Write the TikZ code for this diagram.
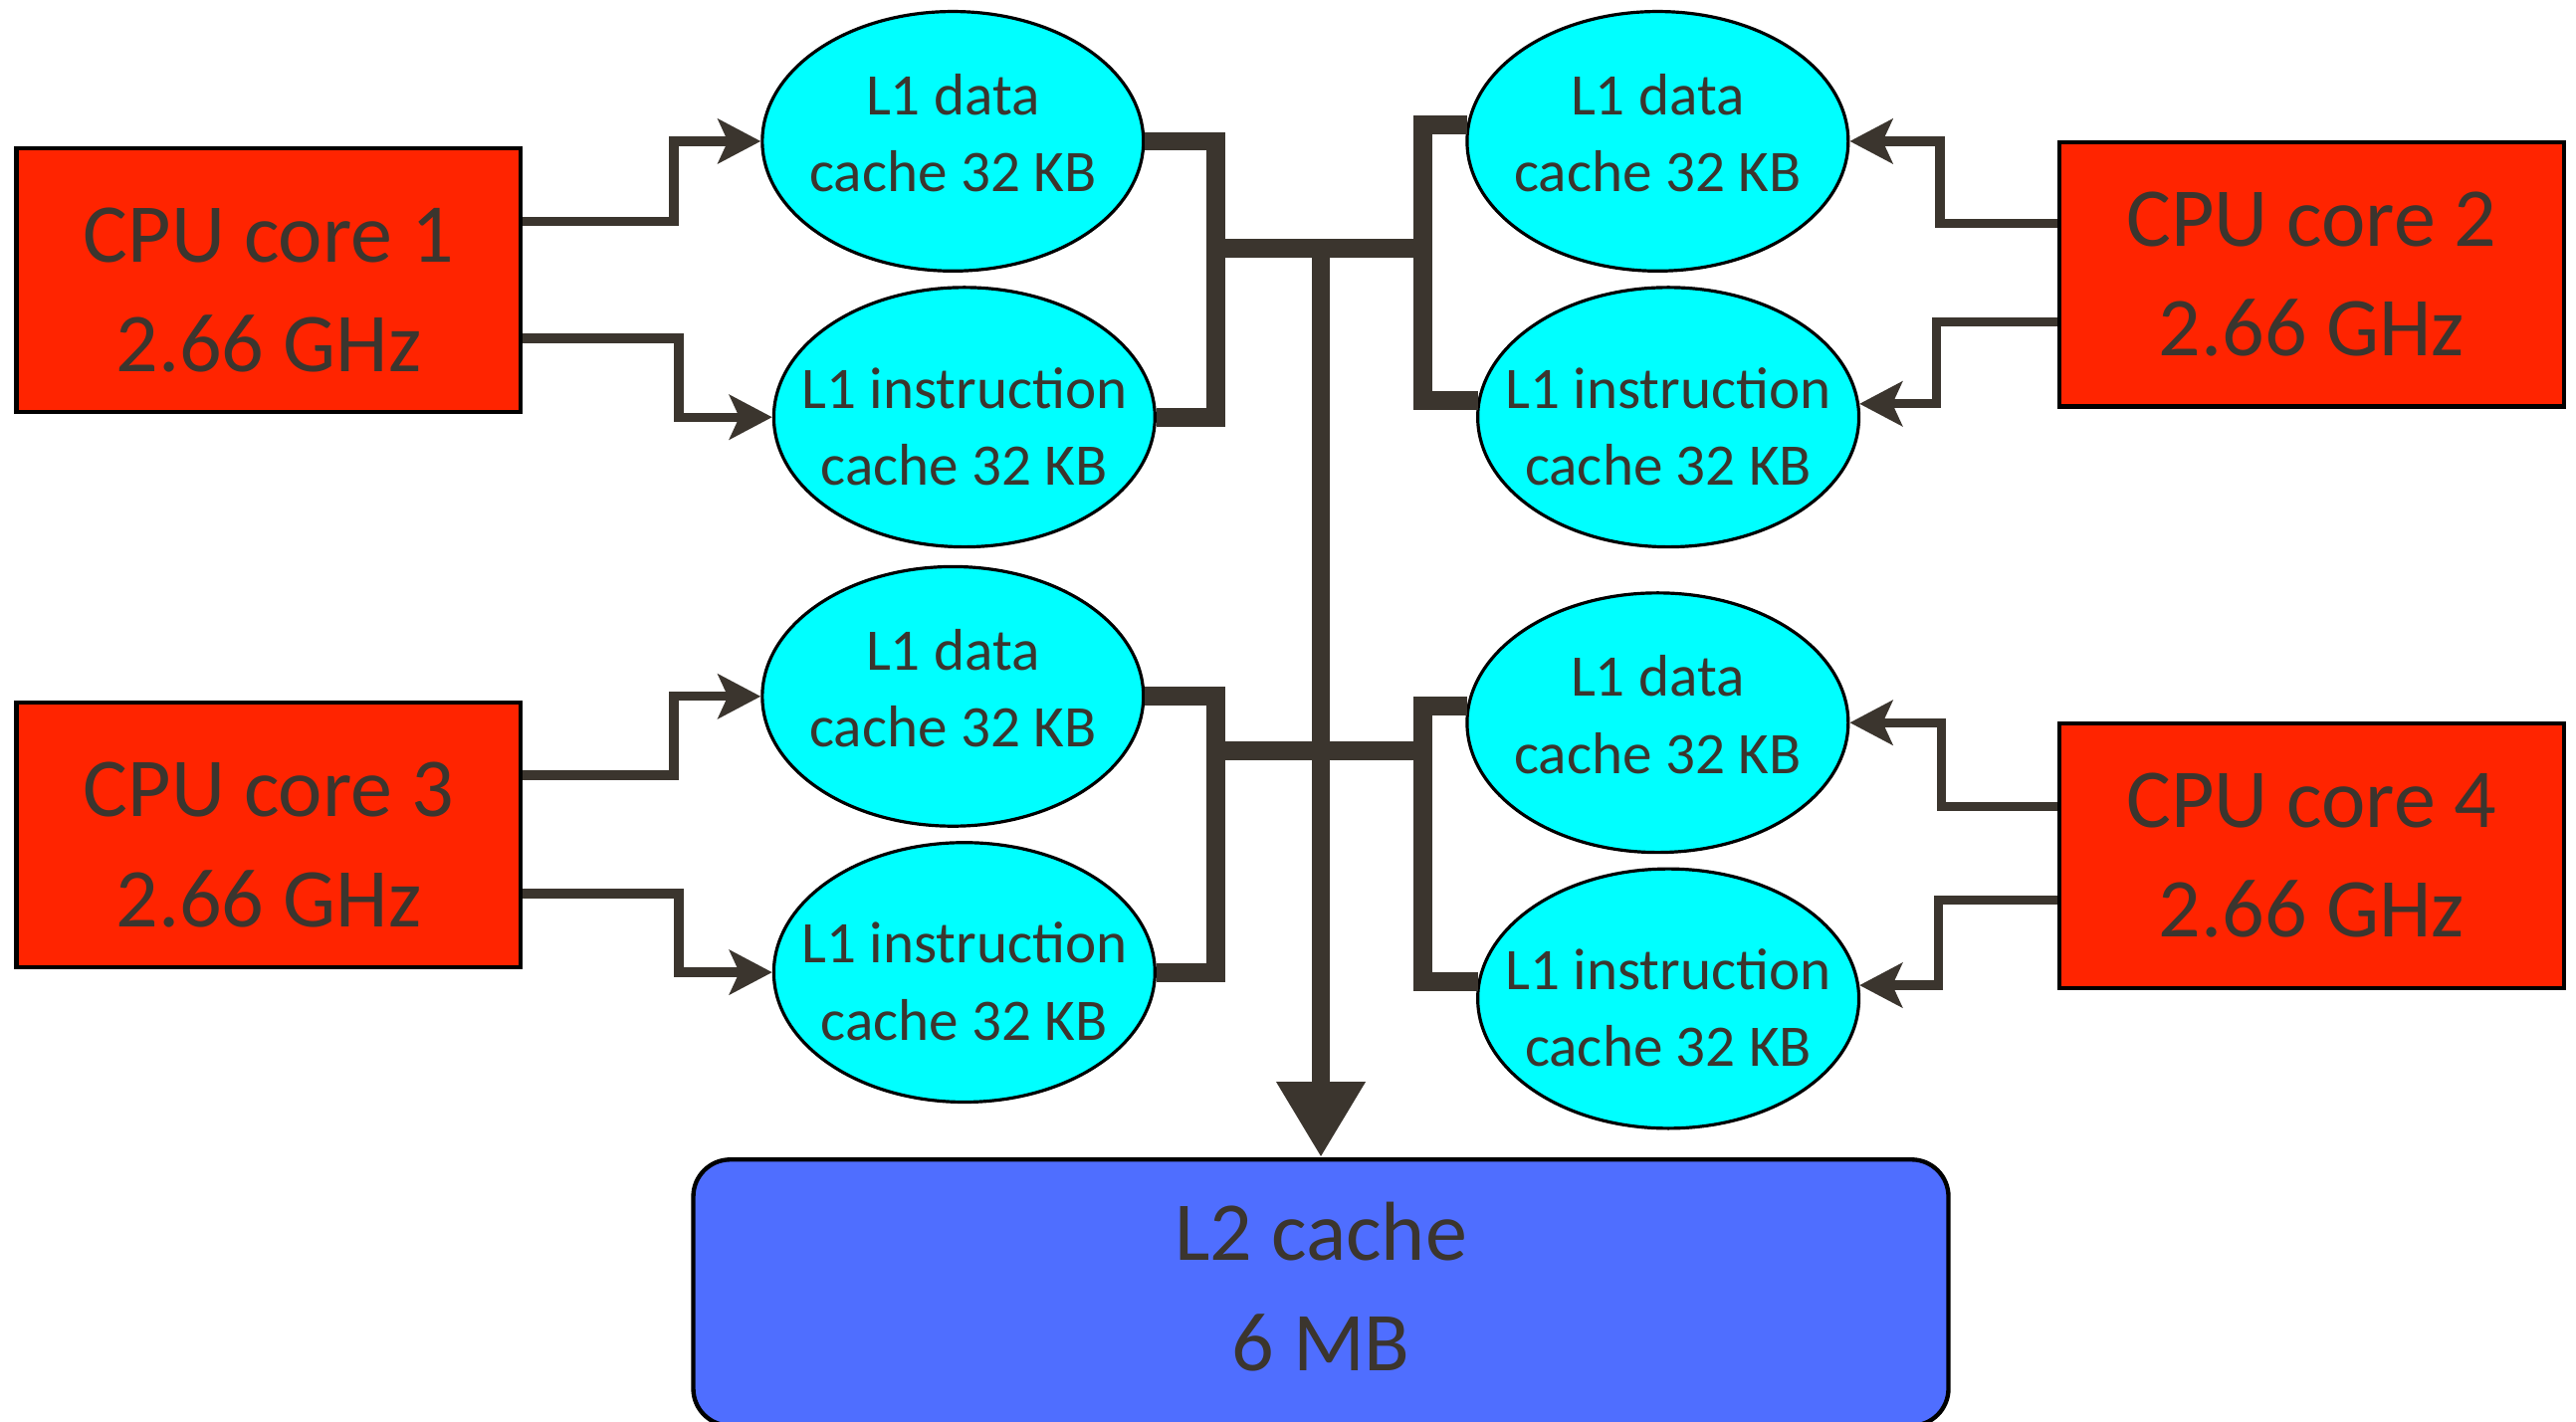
\documentclass[tikz,border=0pt]{standalone}
\usepackage{fontspec}
\setmainfont{Carlito}
\usetikzlibrary{arrows.meta,shapes.geometric,calc}

\definecolor{ink}{HTML}{3B352E}
\definecolor{corered}{HTML}{FF2400}
\definecolor{lonecyan}{HTML}{00FFFF}
\definecolor{ltwoblue}{HTML}{4F6EFF}

% taller first line, pushes a label down a little
\newcommand\dropline[1]{\rule{0pt}{#1}}

\tikzset{
  core/.style={draw=black, line width=1.4pt, fill=corered, minimum width=6.14cm, minimum height=3.22cm,
    align=center, text=ink, font=\fontsize{29}{38}\selectfont},
  cache/.style={ellipse, draw=black, line width=1.1pt, fill=lonecyan, minimum width=4.64cm, minimum height=3.16cm,
    inner xsep=-0.5cm, inner ysep=0pt, align=center, text=ink, font=\fontsize{20.4}{26.7}\selectfont},
  dcache/.style={cache, text depth=0.2cm},
  shared/.style={draw=black, line width=1.5pt, rounded corners=0.45cm, fill=ltwoblue, minimum width=15.28cm,
    minimum height=3.24cm, align=center, text=ink, font=\fontsize{29}{38}\selectfont, text depth=0.15cm},
  link/.style={draw=ink, line width=3.2pt, -{Stealth[length=0.52cm,width=0.54cm,inset=0.12cm]}},
  bus/.style={draw=ink, line width=6.5pt, line join=miter},
}

\begin{document}
\begin{tikzpicture}
\useasboundingbox (0,0) rectangle (31.36,17.304);

% the four cores
\node[core] (c1) at (3.27,13.894) {\dropline{0.90cm}CPU core 1\\2.66 GHz};
\node[core] (c2) at (28.14,13.964) {CPU core 2\\2.66 GHz};
\node[core] (c3) at (3.27,7.134) {\dropline{0.90cm}CPU core 3\\2.66 GHz};
\node[core] (c4) at (28.14,6.884) {CPU core 4\\2.66 GHz};

% L1 data / instruction caches
\node[dcache] (d1) at (11.60,15.584) {L1 data\\cache 32 KB};
\node[cache] (i1) at (11.74,12.224) {\dropline{0.72cm}L1 instruction\\cache 32 KB};
\node[dcache] (d2) at (20.18,15.584) {L1 data\\cache 32 KB};
\node[cache] (i2) at (20.31,12.224) {\dropline{0.72cm}L1 instruction\\cache 32 KB};
\node[dcache] (d3) at (11.60,8.824) {L1 data\\cache 32 KB};
\node[cache] (i3) at (11.74,5.464) {\dropline{0.72cm}L1 instruction\\cache 32 KB};
\node[dcache] (d4) at (20.18,8.504) {L1 data\\cache 32 KB};
\node[cache] (i4) at (20.31,5.144) {\dropline{0.72cm}L1 instruction\\cache 32 KB};

% shared cache
\node[shared] (l2) at (16.08,1.564) {L2 cache\\6 MB};

% core -> L1
\draw[link] ([yshift=0.71cm]c1.east) -- ++(1.84,0) |- (d1.west);
\draw[link] ([yshift=-0.71cm]c1.east) -- ++(1.90,0) |- (i1.west);
\draw[link] ([yshift=0.62cm]c2.west) -- ++(-1.43,0) |- (d2.east);
\draw[link] ([yshift=-0.58cm]c2.west) -- ++(-1.47,0) |- (i2.4);
\draw[link] ([yshift=0.73cm]c3.east) -- ++(1.84,0) |- (d3.west);
\draw[link] ([yshift=-0.71cm]c3.east) -- ++(1.90,0) |- (i3.west);
\draw[link] ([yshift=0.60cm]c4.west) -- ++(-1.41,0) |- (d4.east);
\draw[link] ([yshift=-0.54cm]c4.west) -- ++(-1.45,0) |- (i4.4);

% bus to L2
\coordinate (xl) at (14.80,0);
\coordinate (xr) at (17.32,0);
\coordinate (hubA) at (16.08,14.284);
\coordinate (hubB) at (16.08,8.164);

\draw[bus] (d1.east) -- (d1.east -| xl) |- (i1.east);
\draw[bus] (d2.175) -- (d2.175 -| xr) |- (i2.175);
\draw[bus] (xl |- hubA) -- (xr |- hubA);
\draw[bus] (d3.east) -- (d3.east -| xl) |- (i3.east);
\draw[bus] (d4.175) -- (d4.175 -| xr) |- (i4.175);
\draw[bus] (xl |- hubB) -- (xr |- hubB);
\draw[bus, -{Triangle[length=0.92cm,width=1.02cm]}] (hubA) -- (l2.north);
\end{tikzpicture}
\end{document}
